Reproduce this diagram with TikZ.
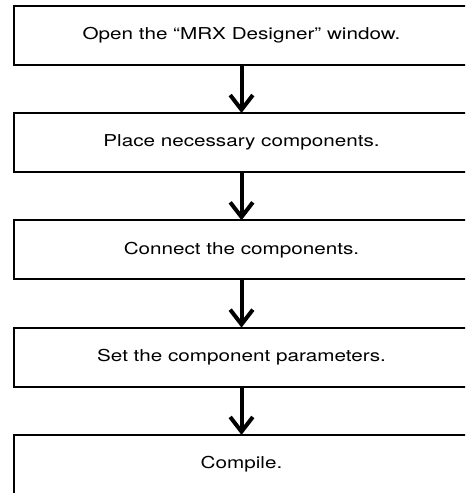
\documentclass[tikz,border=0pt]{standalone}
\usepackage{fontspec}
\setmainfont{TeX Gyre Heros}[FakeStretch=1.26]
\usetikzlibrary{arrows.meta}

\tikzset{
  stepbox/.style={draw, line width=1.4pt, outer sep=0pt, inner sep=0pt,
    minimum width=11.986cm, minimum height=1.556cm,
    font=\fontsize{12.3}{14}\selectfont},
  stepline/.style={line width=3pt,
    -{Straight Barb[length=11pt, width=17pt]}}
}

\begin{document}
\begin{tikzpicture}

			\useasboundingbox (0,0) rectangle (12.261,-12.999);
			\clip (0,0) rectangle (12.261,-12.999);

			\node [stepbox] (open) at (6.368,-0.928) {Open the “MRX Designer” window.};
			\node [stepbox] (place) at (6.368,-3.757) {Place necessary components.};
			\node [stepbox] (connect) at (6.368,-6.586) {Connect the components.};
			\node [stepbox] (params) at (6.368,-9.416) {Set the component parameters.};
			\node [stepbox] (compile) at (6.368,-12.245) {Compile.};

			\draw [stepline] (open) to (place);
			\draw [stepline] (place) to (connect);
			\draw [stepline] (connect) to (params);
			\draw [stepline] (params) to (compile);

		\end{tikzpicture}
\end{document}
